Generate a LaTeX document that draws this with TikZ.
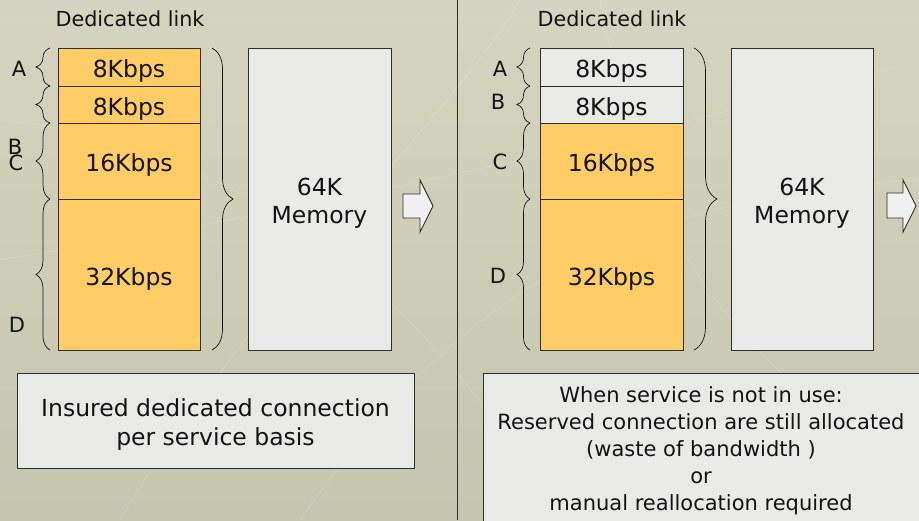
\documentclass[tikz,border=0pt]{standalone}
\usepackage{fontspec}
\setmainfont{DejaVu Sans}
\usetikzlibrary{decorations.pathreplacing}
\definecolor{bgtop}{HTML}{D4D4C0}
\definecolor{bgbot}{HTML}{C6C5AE}
\definecolor{seg}{HTML}{FFCC66}
\definecolor{lgrey}{HTML}{E9E9E7}
\definecolor{edge}{HTML}{2E2E2E}
\definecolor{ink}{HTML}{141414}
\tikzset{
  cell/.style={draw=edge, line width=0.9pt, minimum width=142pt, inner sep=0pt, text=ink, text height=21pt, text depth=0pt, font=\fontsize{23.5}{28}\selectfont},
  memory/.style={draw=edge, line width=0.9pt, fill=lgrey, minimum width=143pt, minimum height=302pt, inner sep=0pt},
  memtext/.style={align=center, inner sep=0pt, text=ink, font=\fontsize{23.5}{28}\selectfont},
  lbl/.style={text=ink, inner sep=0pt, font=\fontsize{21}{24}\selectfont},
  ttl/.style={text=ink, inner sep=0pt, font=\fontsize{20.7}{24}\selectfont},
  brc/.style={draw=ink, line width=0.7pt, decorate, decoration={brace, amplitude=#1}},
  blockarrow/.style={draw=edge, line width=0.9pt, fill=white!94!black},
}
\begin{document}
\begin{tikzpicture}[x=1pt,y=-1pt]
\useasboundingbox (0,0) rectangle (919,520);
\clip (0,0) rectangle (919,520);
\shade[top color=bgtop, bottom color=bgbot] (0,0) rectangle (919,520);
% faint background texture
\begin{scope}[draw=white, opacity=0.13, line width=0.8pt]
  \draw (0,260) .. controls (250,220) and (600,150) .. (919,60);
  \draw (120,520) .. controls (250,300) and (450,120) .. (520,0);
  \draw (300,520) .. controls (420,350) and (560,200) .. (919,180);
  \draw (0,120) .. controls (200,140) and (400,250) .. (560,520);
  \draw (600,0) .. controls (640,200) and (700,350) .. (919,470);
\end{scope}
% divider
\draw[edge, line width=1pt] (457,0) -- (457,520);

% ---------- left panel ----------
\node[ttl] (t1) at (130,19) {Dedicated link};
\node[cell, fill=seg, minimum height=38pt] (la) at (129,67) {8Kbps};
\node[cell, fill=seg, minimum height=37pt] (lb) at (129,104.5) {8Kbps};
\node[cell, fill=seg, minimum height=76pt] (lc) at (129,161) {16Kbps};
\node[cell, fill=seg, minimum height=151pt] (ld) at (129,274.5) {32Kbps};
\draw[brc=14pt] (50,86) -- (50,48);
\draw[brc=14pt] (50,123) -- (50,86);
\draw[brc=14pt] (50,199) -- (50,123);
\draw[brc=14pt] (50,350) -- (50,199);
\node[lbl] (lA) at (19,69) {A};
\node[lbl] (lB) at (15,147) {B};
\node[lbl] (lC) at (16,163) {C};
\node[lbl] (lD) at (17,325) {D};
\draw[brc=21pt] (212,48) -- (212,350);
\node[memory] (lm) at (319.5,199) {};
\node[memtext] (lmt) at (319.5,203) {64K\\Memory};
\draw[blockarrow] (403,194) -- (420,194) -- (420,180) -- (433,206) -- (420,232) -- (420,218) -- (403,218) -- cycle;
\node[draw=edge, line width=0.9pt, fill=lgrey, minimum width=397pt, minimum height=95pt, inner sep=0pt] (lnote) at (215.5,420.5) {};
\node[align=center, inner sep=0pt, text=ink, font=\fontsize{23.5}{29}\selectfont] (lnotet) at (215.5,424.5) {Insured dedicated connection\\per service basis};

% ---------- right panel ----------
\node[ttl] (t2) at (612,19) {Dedicated link};
\node[cell, fill=lgrey, minimum width=143pt, minimum height=38pt] (ra) at (611.5,67) {8Kbps};
\node[cell, fill=lgrey, minimum width=143pt, minimum height=37pt] (rb) at (611.5,104.5) {8Kbps};
\node[cell, fill=seg, minimum width=143pt, minimum height=76pt] (rc) at (611.5,161) {16Kbps};
\node[cell, fill=seg, minimum width=143pt, minimum height=151pt] (rd) at (611.5,274.5) {32Kbps};
\draw[brc=13pt] (530,86) -- (530,48);
\draw[brc=13pt] (530,123) -- (530,86);
\draw[brc=13pt] (530,199) -- (530,123);
\draw[brc=13pt] (530,350) -- (530,199);
\node[lbl] (rA) at (500,69) {A};
\node[lbl] (rB) at (498,102) {B};
\node[lbl] (rC) at (500,162) {C};
\node[lbl] (rD) at (498,276) {D};
\draw[brc=23pt] (694,48) -- (694,350);
\node[memory, minimum width=142pt] (rm) at (802,199) {};
\node[memtext] (rmt) at (802,203) {64K\\Memory};
\draw[blockarrow] (887,193) -- (903,193) -- (903,180) -- (916,206) -- (903,232) -- (903,218) -- (887,218) -- cycle;
\draw[edge, line width=0.9pt, fill=lgrey] (483,373) rectangle (930,540);
\node[align=center, inner sep=0pt, text=ink, font=\fontsize{21}{27}\selectfont] (rnote) at (701,450.5) {When service is not in use:\\Reserved connection are still allocated\\(waste of bandwidth )\\or\\manual reallocation required};
\end{tikzpicture}
\end{document}
